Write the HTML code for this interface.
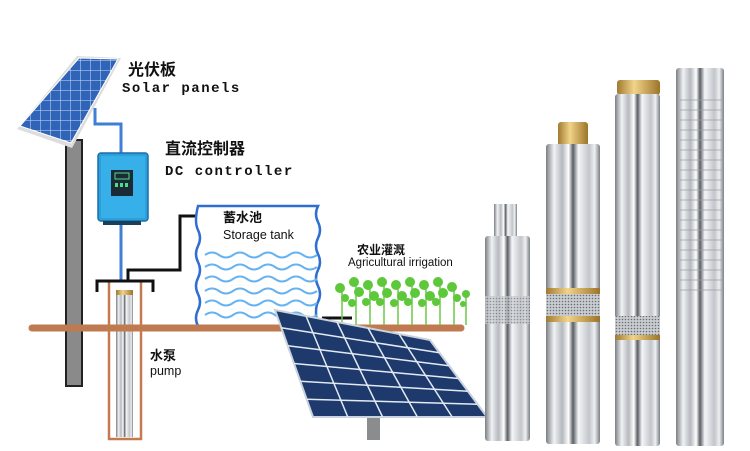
<!DOCTYPE html>
<html><head><meta charset="utf-8"><style>
html,body{margin:0;padding:0;background:#fff;}
svg{display:block}
.cn{font-family:"Liberation Sans","Noto Sans CJK SC",sans-serif;font-weight:bold;fill:#111}
.mono{font-family:"Liberation Mono",monospace;font-weight:bold;fill:#111}
.sn{font-family:"Liberation Sans",sans-serif;fill:#111}
</style></head><body>
<svg width="750" height="451" viewBox="0 0 750 451" xmlns="http://www.w3.org/2000/svg">
<defs>
<linearGradient id="steel" x1="0" x2="1" y1="0" y2="0">
<stop offset="0" stop-color="#7a7f84"/><stop offset="0.15" stop-color="#f0f2f4"/>
<stop offset="0.3" stop-color="#b4b9be"/><stop offset="0.42" stop-color="#ffffff"/>
<stop offset="0.5" stop-color="#5a5e63"/><stop offset="0.6" stop-color="#f4f6f8"/>
<stop offset="0.8" stop-color="#c2c6ca"/><stop offset="0.9" stop-color="#eef0f2"/>
<stop offset="1" stop-color="#7a7f84"/></linearGradient>
<linearGradient id="brass" x1="0" x2="1"><stop offset="0" stop-color="#a07a30"/><stop offset="0.4" stop-color="#f1d38a"/><stop offset="1" stop-color="#9c7428"/></linearGradient>
<pattern id="cells" width="10" height="10" patternUnits="userSpaceOnUse"><rect width="10" height="10" fill="#2f64b8"/><path d="M0 0H10M0 0V10" stroke="#cfe0f5" stroke-width="1"/></pattern>
<pattern id="mesh" width="3" height="3" patternUnits="userSpaceOnUse"><rect width="3" height="3" fill="#c9cdd1"/><circle cx="1.5" cy="1.5" r="0.8" fill="#6a6f74"/></pattern>
</defs>

<!-- left pole -->
<rect x="66" y="140" width="16" height="246" fill="#8a8a8a" stroke="#222" stroke-width="2"/>
<!-- top panel -->
<polygon points="77,56 121,58 72,148 17,129" fill="#ddd"/>
<polygon points="79,58 118,59 71,143 20,126" fill="url(#cells)" stroke="#fff" stroke-width="1"/>
<!-- blue wire -->
<path d="M95 108 V124 H121 V155 M121 222 V285" stroke="#3f7fd6" stroke-width="3" fill="none"/>
<!-- controller -->
<rect x="98" y="153" width="50" height="68" rx="3" fill="#2da0dc" stroke="#1a6fa8" stroke-width="1.5"/>
<rect x="101" y="156" width="44" height="62" fill="#37b0ea"/>
<rect x="111" y="170" width="22" height="26" fill="#1c2a36"/>
<rect x="115" y="173" width="14" height="6" fill="none" stroke="#4fdc8a" stroke-width="1"/>
<rect x="115" y="183" width="3" height="4" fill="#4fdc8a"/><rect x="120" y="183" width="3" height="4" fill="#4fdc8a"/><rect x="125" y="183" width="3" height="4" fill="#4fdc8a"/>
<rect x="103" y="221" width="38" height="4" fill="#1a3f5a"/>

<!-- black pipe -->
<path d="M128 283 V270 H180 V216 H212" stroke="#111" stroke-width="3" fill="none"/>
<!-- well -->
<rect x="109" y="281" width="32" height="158" fill="#fff" stroke="#c47a4e" stroke-width="2.5"/>
<path d="M97 292 V281 H153 V292" stroke="#111" stroke-width="3" fill="none"/>
<rect x="116" y="292" width="17" height="145" fill="url(#steel)"/>
<rect x="116" y="290" width="17" height="5" fill="url(#brass)"/>

<!-- tank -->
<path d="M198 206 H318 Q314 214 318 222 Q322 230 318 238 Q314 246 318 254 Q322 262 318 270 Q314 278 318 286 Q322 294 318 302 Q314 310 318 326 H198 Q194 318 198 310 Q202 302 198 294 Q194 286 198 278 Q202 270 198 262 Q194 254 198 246 Q202 238 198 230 Q194 222 198 206 Z" fill="#fff" stroke="#2f6fd0" stroke-width="2.5"/>
<g stroke="#66b3f0" stroke-width="2" fill="none">
<path d="M205 255 q7 -5 14 0 t14 0 t14 0 t14 0 t14 0 t14 0 t14 0 t14 0"/>
<path d="M205 267 q7 -5 14 0 t14 0 t14 0 t14 0 t14 0 t14 0 t14 0 t14 0"/>
<path d="M205 279 q7 -5 14 0 t14 0 t14 0 t14 0 t14 0 t14 0 t14 0 t14 0"/>
<path d="M205 291 q7 -5 14 0 t14 0 t14 0 t14 0 t14 0 t14 0 t14 0 t14 0"/>
<path d="M205 303 q7 -5 14 0 t14 0 t14 0 t14 0 t14 0 t14 0 t14 0 t14 0"/>
<path d="M205 315 q7 -5 14 0 t14 0 t14 0 t14 0 t14 0 t14 0 t14 0 t14 0"/>
</g>
<!-- ground -->
<line x1="32" y1="328" x2="461" y2="328" stroke="#c07a50" stroke-width="7" stroke-linecap="round"/>
<line x1="322" y1="318" x2="352" y2="318" stroke="#111" stroke-width="3"/>
<!-- plants -->
<g stroke="#6cc84a" stroke-width="1.5"><path d="M342 290V325M356 285V325M370 288V325M384 285V325M398 288V325M412 285V325M426 288V325M440 285V325M454 290V325M466 295V325"/></g>
<g fill="#5cc83a">
<circle cx="340" cy="288" r="5"/><circle cx="345" cy="298" r="4"/><circle cx="354" cy="282" r="5"/><circle cx="359" cy="292" r="5"/><circle cx="352" cy="303" r="4"/>
<circle cx="368" cy="285" r="5"/><circle cx="374" cy="296" r="5"/><circle cx="366" cy="302" r="4"/><circle cx="382" cy="282" r="5"/><circle cx="387" cy="293" r="5"/><circle cx="380" cy="302" r="4"/>
<circle cx="396" cy="285" r="5"/><circle cx="402" cy="296" r="5"/><circle cx="394" cy="303" r="4"/><circle cx="410" cy="282" r="5"/><circle cx="415" cy="293" r="5"/><circle cx="408" cy="302" r="4"/>
<circle cx="424" cy="285" r="5"/><circle cx="430" cy="296" r="5"/><circle cx="422" cy="303" r="4"/><circle cx="438" cy="282" r="5"/><circle cx="443" cy="293" r="5"/><circle cx="436" cy="302" r="4"/>
<circle cx="452" cy="287" r="5"/><circle cx="457" cy="298" r="4"/><circle cx="466" cy="294" r="4"/><circle cx="463" cy="304" r="3"/>
</g>

<!-- big panel -->
<rect x="367" y="412" width="13" height="28" fill="#8a8c8e"/>
<polygon points="275,310 430,340 487,417 313,417" fill="#1e3a6c" stroke="#c9d2dd" stroke-width="2"/>
<g stroke="#e3eaf3" stroke-width="1.5">
<line x1="306" y1="316" x2="347.8" y2="417"/><line x1="337" y1="322" x2="382.6" y2="417"/>
<line x1="368" y1="328" x2="417.4" y2="417"/><line x1="399" y1="334" x2="452.2" y2="417"/>
<line x1="281.3" y1="327.8" x2="439.5" y2="352.8"/><line x1="287.7" y1="345.7" x2="449" y2="365.7"/>
<line x1="294" y1="363.5" x2="458.5" y2="378.5"/><line x1="300.3" y1="381.3" x2="468" y2="391.3"/>
<line x1="306.7" y1="399.2" x2="477.5" y2="404.2"/>
</g>

<!-- pumps -->
<rect x="494" y="204" width="23" height="34" fill="url(#steel)"/>
<rect x="485" y="236" width="45" height="205" rx="3" fill="url(#steel)"/>
<rect x="485" y="296" width="45" height="28" fill="url(#mesh)" opacity="0.7"/>

<rect x="558" y="122" width="30" height="24" rx="3" fill="url(#brass)"/>
<rect x="546" y="144" width="54" height="300" rx="3" fill="url(#steel)"/>
<rect x="546" y="288" width="54" height="6" fill="url(#brass)"/>
<rect x="546" y="294" width="54" height="22" fill="url(#mesh)"/>
<rect x="546" y="316" width="54" height="6" fill="url(#brass)"/>

<rect x="617" y="80" width="43" height="15" rx="3" fill="url(#brass)"/>
<rect x="615" y="94" width="45" height="352" rx="3" fill="url(#steel)"/>
<rect x="615" y="316" width="45" height="20" fill="url(#mesh)"/>
<rect x="615" y="335" width="45" height="5" fill="url(#brass)"/>

<rect x="676" y="68" width="48" height="378" rx="3" fill="url(#steel)"/>
<g stroke="#9aa0a6" stroke-width="0.8"><path d="M680 100H722M680 110H722M680 120H722M680 130H722M680 140H722M680 150H722M680 160H722M680 170H722M680 180H722M680 190H722M680 200H722M680 210H722M680 220H722M680 230H722M680 240H722M680 250H722M680 260H722M680 270H722M680 280H722M680 290H722"/></g>

<!-- labels -->
<text x="128" y="75" class="cn" font-size="16">光伏板</text>
<text x="122" y="92" class="mono" font-size="14" letter-spacing="1.5">Solar panels</text>
<text x="165" y="154" class="cn" font-size="16">直流控制器</text>
<text x="165" y="175" class="mono" font-size="14" letter-spacing="1.5">DC controller</text>
<text x="223" y="222" class="cn" font-size="13" font-weight="normal">蓄水池</text>
<text x="223" y="239" class="sn" font-size="12.5">Storage tank</text>
<text x="357" y="254" class="cn" font-size="12" font-weight="normal">农业灌溉</text>
<text x="348" y="266" class="sn" font-size="11.5">Agricultural irrigation</text>
<text x="150" y="360" class="cn" font-size="13" font-weight="normal">水泵</text>
<text x="150" y="375" class="sn" font-size="12.5">pump</text>
</svg>
</body></html>
